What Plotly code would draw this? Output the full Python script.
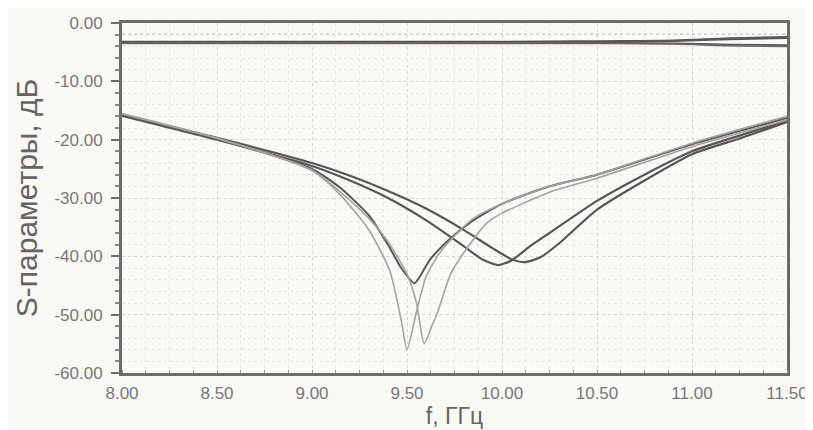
import plotly.graph_objects as go

# Frequencies (GHz) and S-parameter values (dB)
fA = [8.0, 8.5, 9.0, 9.2, 9.4, 9.6, 9.8, 9.95, 10.05, 10.12, 10.2, 10.3, 10.5, 10.75, 11.0, 11.25, 11.5]
sA = [-15.8, -19.7, -24.0, -26.2, -28.8, -31.8, -35.5, -38.6, -40.5, -41.0, -40.2, -37.8, -32.0, -27.0, -22.5, -19.8, -17.0]

fB = [8.0, 8.5, 9.0, 9.2, 9.4, 9.6, 9.8, 9.9, 9.98, 10.05, 10.15, 10.25, 10.5, 10.75, 11.0, 11.25, 11.5]
sB = [-15.9, -20.0, -24.5, -27.0, -30.0, -33.8, -38.3, -40.6, -41.5, -40.7, -38.2, -36.0, -30.5, -26.0, -22.0, -19.3, -16.8]

fC = [8.0, 8.5, 9.0, 9.15, 9.3, 9.4, 9.47, 9.54, 9.62, 9.73, 9.85, 10.0, 10.25, 10.5, 11.0, 11.5]
sC = [-15.7, -19.9, -25.0, -28.3, -33.0, -38.0, -42.0, -44.6, -40.6, -36.9, -33.8, -31.0, -28.0, -26.0, -20.8, -16.3]

fD = [8.0, 8.5, 9.0, 9.15, 9.3, 9.41, 9.47, 9.5, 9.55, 9.6, 9.67, 9.75, 9.85, 10.0, 10.25, 10.5, 11.0, 11.5]
sD = [-15.5, -19.7, -25.3, -29.5, -35.5, -42.5, -51.0, -56.0, -49.5, -43.5, -39.5, -36.5, -33.5, -31.0, -28.0, -26.0, -20.6, -16.0]

fE = [8.0, 8.5, 9.0, 9.15, 9.3, 9.4, 9.5, 9.55, 9.59, 9.63, 9.66, 9.73, 9.82, 9.92, 10.0, 10.25, 10.5, 11.0, 11.5]
sE = [-15.6, -19.8, -25.2, -29.0, -33.5, -37.5, -43.0, -48.0, -55.0, -52.0, -49.7, -43.0, -38.4, -34.3, -32.6, -29.0, -26.6, -21.2, -16.6]

fU = [8.0, 9.0, 10.0, 10.5, 10.9, 11.2, 11.5]
sU1 = [-3.2, -3.2, -3.2, -3.1, -3.0, -2.6, -2.4]
sU2 = [-3.4, -3.4, -3.3, -3.3, -3.1, -2.8, -2.6]
sU3 = [-3.3, -3.3, -3.4, -3.4, -3.5, -3.7, -3.8]
sU4 = [-3.5, -3.5, -3.5, -3.5, -3.6, -3.9, -4.0]
sU5 = [-1.9, -1.9, -1.9, -1.9, -1.9, -1.9, -1.9]

xticks = [8.0, 8.5, 9.0, 9.5, 10.0, 10.5, 11.0, 11.5]
xtick_text = ["8.00", "8.50", "9.00", "9.50", "10.00", "10.50", "11.00", "11.50"]
yticks = [0, -10, -20, -30, -40, -50, -60]
ytick_text = ["0.00", "-10.00", "-20.00", "-30.00", "-40.00", "-50.00", "-60.00"]

DARK = "#5a5558"
LIGHT = "#a4a2a4"

fig = go.Figure()
for f, s, c, w in [
    (fA, sA, DARK, 2.2), (fB, sB, DARK, 2.2), (fC, sC, DARK, 2.0),
    (fD, sD, LIGHT, 1.6), (fE, sE, LIGHT, 1.6),
]:
    fig.add_trace(go.Scatter(x=f, y=s, mode="lines",
                             line=dict(color=c, width=w, shape="spline", smoothing=0.6),
                             showlegend=False, hoverinfo="skip"))

for s, c, w, d in [
    (sU5, "#c8c6c8", 1.2, "dot"),
    (sU1, DARK, 1.8, "solid"), (sU2, DARK, 1.8, "solid"),
    (sU3, DARK, 1.8, "solid"), (sU4, "#6a6568", 1.6, "solid"),
]:
    fig.add_trace(go.Scatter(x=fU, y=s, mode="lines",
                             line=dict(color=c, width=w, shape="spline", dash=d),
                             showlegend=False, hoverinfo="skip"))

font = "Liberation Sans, Arial, sans-serif"
fig.update_layout(
    width=805, height=422,
    margin=dict(l=114, r=26, t=15, b=57),
    paper_bgcolor="#f8f8f5",
    plot_bgcolor="#f9f9f6",
    font=dict(family=font, color="#777377", size=17),
    xaxis=dict(
        range=[8.0, 11.5], tickvals=xticks, ticktext=xtick_text, automargin=False,
        showgrid=True, gridcolor="#d6d4d6", griddash="dot", gridwidth=1,
        minor=dict(dtick=0.125, showgrid=True, gridcolor="#e6e4e6", griddash="dot",
                   ticks="inside", ticklen=3, tickcolor="#9a969a"),
        showline=True, linecolor="#6e6a6e", linewidth=3, mirror=True,
        ticks="", zeroline=False, ticklabelstandoff=3,
        title=dict(text="f, ГГц", font=dict(size=23, color="#666266"), standoff=4),
        tickfont=dict(size=17, color="#7a767a"),
    ),
    yaxis=dict(
        range=[-60, 0], tickvals=yticks, ticktext=ytick_text, automargin=False,
        showgrid=True, gridcolor="#d6d4d6", griddash="dot", gridwidth=1,
        minor=dict(dtick=2, showgrid=True, gridcolor="#e6e4e6", griddash="dot",
                   ticks="outside", ticklen=4, tickcolor="#8a868a"),
        showline=True, linecolor="#6e6a6e", linewidth=3, mirror=True,
        ticks="outside", ticklen=8, tickcolor="#6e6a6e", tickwidth=2,
        zeroline=False, ticklabelstandoff=5,
        title=dict(text="S-параметры, дБ", font=dict(size=30, color="#666266"), standoff=8),
        tickfont=dict(size=17, color="#7a767a"),
    ),
)

fig.write_html("out.html")
